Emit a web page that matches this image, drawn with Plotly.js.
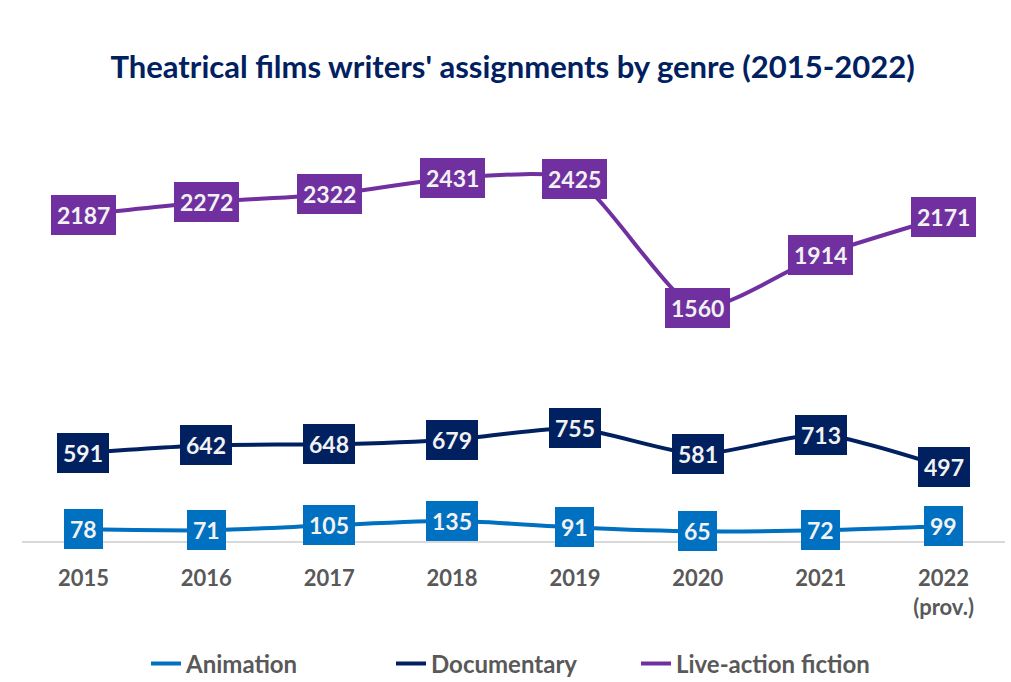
<!DOCTYPE html>
<html>
<head>
<meta charset="utf-8">
<script src="https://cdn.plot.ly/plotly-3.0.1.min.js"></script>
<style>html,body{margin:0;padding:0;background:#fff;}#chart{width:1011px;height:682px;}</style>
</head>
<body>
<div id="chart"></div>
<script>
const years = ['2015','2016','2017','2018','2019','2020','2021','2022'];
const yearLabels = ['2015','2016','2017','2018','2019','2020','2021','2022<br>(prov.)'];
const animation = [78,71,105,135,91,65,72,99];
const documentary = [591,642,648,679,755,581,713,497];
const liveAction = [2187,2272,2322,2431,2425,1560,1914,2171];
const seriesNames = ['Animation','Documentary','Live-action fiction'];
const seriesValues = [animation, documentary, liveAction];
const seriesColors = ['#0070C0','#002060','#7030A0'];

const FONT = 'Lato, "Open Sans", sans-serif';

const traces = seriesValues.map((vals, i) => ({
  type: 'scatter',
  mode: 'lines',
  x: years,
  y: vals,
  name: '<b>' + seriesNames[i] + '</b>',
  line: {color: seriesColors[i], width: 4, shape: 'spline', smoothing: 0.6},
  hoverinfo: 'skip'
}));

const annotations = [];
seriesValues.forEach((vals, i) => {
  vals.forEach((v, j) => {
    annotations.push({
      x: j, y: v, xref: 'x', yref: 'y',
      text: '<b>' + v + '</b>',
      showarrow: false,
      bgcolor: seriesColors[i],
      borderpad: 6,
      borderwidth: 0,
      font: {family: FONT, size: 23, color: '#F2F2F2'},
      xanchor: 'center', yanchor: 'middle'
    });
  });
});

const layout = {
  width: 1011, height: 682,
  paper_bgcolor: '#ffffff', plot_bgcolor: '#ffffff',
  margin: {l: 22, r: 6, t: 153, b: 141, autoexpand: false},
  title: {
    text: "<b>Theatrical films writers' assignments by genre (2015-2022)</b>",
    font: {family: FONT, size: 31, color: '#002060'},
    x: 0.507, xanchor: 'center', y: 1 - 67/682, yanchor: 'middle'
  },
  xaxis: {
    type: 'category',
    range: [-0.5, 7.5],
    tickvals: years, ticktext: yearLabels.map(t => '<b>' + t + '</b>'),
    showgrid: false, zeroline: false,
    showline: true, linecolor: '#D9D9D9', linewidth: 2,
    ticks: 'outside', ticklen: 17, tickcolor: 'rgba(0,0,0,0)',
    tickfont: {family: FONT, size: 22, color: '#595959'},
    automargin: false,
    fixedrange: true
  },
  yaxis: {
    range: [0, 2600],
    showgrid: false, zeroline: false, showline: false,
    showticklabels: false, ticks: '',
    automargin: false,
    fixedrange: true
  },
  showlegend: true,
  legend: {
    orientation: 'h', x: 0.5, xanchor: 'center',
    y: -123/388, yanchor: 'middle',
    font: {family: FONT, size: 24, color: '#595959'},
    entrywidthmode: 'pixels', entrywidth: 200,
    itemwidth: 30
  },
  annotations: annotations
};

Plotly.newPlot('chart', traces, layout, {displayModeBar: false, staticPlot: true});
</script>
</body>
</html>
